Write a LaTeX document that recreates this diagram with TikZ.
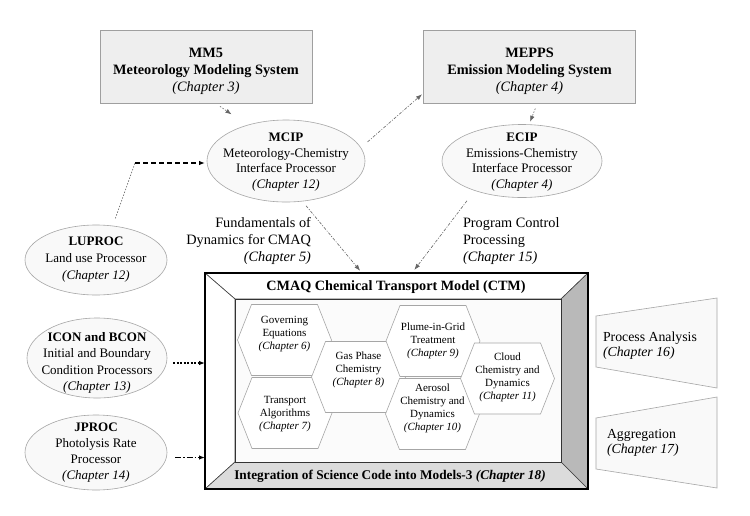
\documentclass[tikz,border=0pt]{standalone}
\usepackage{fontspec}
\setmainfont{Liberation Serif}
\usetikzlibrary{shapes.geometric,arrows.meta,calc}
\newcommand\hexcell[2]{\draw[hexline] (#1,#2) ++(-47,0) -- ++(14,-35.5) -- ++(66,0) -- ++(14,35.5) -- ++(-14,35.5) -- ++(-66,0) -- cycle;}
\begin{document}
\begin{tikzpicture}[x=1pt,y=-1pt,
  every node/.style={inner sep=0pt, outer sep=0pt},
  topbox/.style={draw=gray!75, fill=gray!13, line width=0.7pt, minimum width=212pt, minimum height=73pt},
  boxtext/.style={align=center, font=\fontsize{14.3}{17}\selectfont\bfseries},
  ell/.style={ellipse, draw=gray!70, fill=gray!5, line width=0.6pt},
  elltext/.style={align=center, font=\fontsize{13}{15.5}\selectfont},
  hexline/.style={draw=gray!70, fill=white, line width=0.6pt},
  hextext/.style={align=center, font=\fontsize{11}{13}\selectfont},
  lbl/.style={font=\fontsize{14.3}{17}\selectfont},
  traptext/.style={align=left, anchor=west, font=\fontsize{13.8}{15.5}\selectfont},
  trap/.style={draw=gray!70, fill=gray!5, line width=0.6pt},
  tip/.style={-{Latex[length=6pt,width=4.5pt]}},
  lightdot/.style={tip, draw=gray!80!black, line width=0.6pt, dash pattern=on 1.5pt off 1.5pt},
  lightdashdot/.style={tip, draw=gray!80!black, line width=0.6pt, dash pattern=on 3pt off 1.5pt on 1pt off 1.5pt},
  heavydash/.style={tip, draw=black, line width=1.1pt, dash pattern=on 5pt off 3pt},
  heavydot/.style={tip, draw=black, line width=1.1pt, dash pattern=on 2pt off 1.5pt},
  heavydashdot/.style={tip, draw=black, line width=1.1pt, dash pattern=on 6pt off 2pt on 1.5pt off 2pt},
]
\useasboundingbox (0,0) rectangle (750,515);
\fill[white] (0,0) rectangle (750,515);

% top boxes
\node[topbox] (mm5) at (206,66.5) {};
\node[boxtext] (mm5T) at (206,71) {MM5\\Meteorology Modeling System\\{\mdseries\itshape (Chapter 3)}};
\node[topbox] (mepps) at (529.5,66.5) {};
\node[boxtext] (meppsT) at (529.5,71) {MEPPS\\Emission Modeling System\\{\mdseries\itshape (Chapter 4)}};

% ellipses
\node[ell, minimum width=158pt, minimum height=82pt] (mcip) at (286,161) {};
\node[elltext] (mcipT) at (286,162) {\textbf{MCIP}\\Meteorology-Chemistry\\Interface Processor\\\textit{(Chapter 12)}};
\node[ell, minimum width=160pt, minimum height=73pt] (ecip) at (522,161) {};
\node[elltext] (ecipT) at (522,162) {\textbf{ECIP}\\Emissions-Chemistry\\Interface Processor\\\textit{(Chapter 4)}};
\node[ell, minimum width=142pt, minimum height=70pt] (luproc) at (96,260) {};
\node[elltext, font=\fontsize{13}{17}\selectfont] (luprocT) at (96,260) {\textbf{LUPROC}\\Land use Processor\\\textit{(Chapter 12)}};
\node[ell, minimum width=140pt, minimum height=80pt] (icon) at (97,358) {};
\node[elltext, font=\fontsize{13}{16.3}\selectfont] (iconT) at (97,363) {\textbf{ICON and BCON}\\Initial and Boundary\\Condition Processors\\\textit{(Chapter 13)}};
\node[ell, minimum width=142pt, minimum height=75pt] (jproc) at (96,452.5) {};
\node[elltext, font=\fontsize{13}{16}\selectfont] (jprocT) at (96,453) {\textbf{JPROC}\\Photolysis Rate\\Processor\\\textit{(Chapter 14)}};

% labels
\node[lbl, align=right, anchor=east] (fund) at (311,241) {Fundamentals of\\Dynamics for CMAQ\\\textit{(Chapter 5)}};
\node[lbl, align=left, anchor=west] (prog) at (463,241) {Program Control\\Processing\\\textit{(Chapter 15)}};

% CTM frame
\node[minimum width=383pt, minimum height=216pt] (ctm) at (396.5,381) {};
\node[minimum width=326pt, minimum height=163pt] (core) at (398,380.5) {};
\filldraw[fill=white, draw=gray!50!black, line width=0.6pt] (ctm.north west) -- (ctm.north east) -- (core.north east) -- (core.north west) -- cycle;
\filldraw[fill=white, draw=gray!50!black, line width=0.6pt] (ctm.north west) -- (core.north west) -- (core.south west) -- (ctm.south west) -- cycle;
\filldraw[fill=gray!55, draw=gray!50!black, line width=0.6pt] (ctm.north east) -- (ctm.south east) -- (core.south east) -- (core.north east) -- cycle;
\filldraw[fill=gray!28, draw=gray!50!black, line width=0.6pt] (ctm.south west) -- (ctm.south east) -- (core.south east) -- (core.south west) -- cycle;
\filldraw[fill=gray!3, draw=gray!40!black, line width=0.9pt] (core.north west) rectangle (core.south east);
\draw[black, line width=1.1pt] (ctm.north west) rectangle (ctm.south east);
\node[font=\fontsize{14.2}{17}\selectfont\bfseries] (ctmT) at (396,287) {CMAQ Chemical Transport Model (CTM)};
\node[font=\fontsize{13.3}{16}\selectfont\bfseries] (integ) at (390,476) {Integration of Science Code into Models-3 \textit{(Chapter 18)}};

% hexagons
\hexcell{284.5}{340}
\hexcell{285}{413}
\hexcell{358.5}{377}
\hexcell{433}{341}
\hexcell{432.5}{414}
\hexcell{507.5}{378.5}
\node[hextext] (h1) at (284.5,334) {Governing\\Equations\\\textit{(Chapter 6)}};
\node[hextext] (h2) at (285,414) {Transport\\Algorithms\\\textit{(Chapter 7)}};
\node[hextext] (h3) at (358.5,370) {Gas Phase\\Chemistry\\\textit{(Chapter 8)}};
\node[hextext] (h4) at (433,341) {Plume-in-Grid\\Treatment\\\textit{(Chapter 9)}};
\node[hextext] (h5) at (432.5,408) {Aerosol\\Chemistry and\\Dynamics\\\textit{(Chapter 10)}};
\node[hextext] (h6) at (507.5,377.5) {Cloud\\Chemistry and\\Dynamics\\\textit{(Chapter 11)}};

% right trapezoids
\draw[trap] (596,316) -- (717,298) -- (717,388) -- (596,367) -- cycle;
\node[traptext] (pa) at (603,345.5) {Process Analysis\\\textit{(Chapter 16)}};
\draw[trap] (596,418) -- (717,397) -- (717,488) -- (596,469) -- cycle;
\node[traptext] (agg) at (607,443) {Aggregation\\\textit{(Chapter 17)}};

% connectors
\draw[lightdot, shorten <=6pt, shorten >=3pt] ([xshift=9pt]mm5.south) -- ([xshift=-52pt,yshift=4pt]mcip.north);
\draw[lightdashdot, shorten <=9pt, shorten >=2pt] (mcip.10) -- ([yshift=10pt]mepps.south west);
\draw[lightdot, shorten <=6pt, shorten >=3pt] ([xshift=8pt]mepps.south) -- ([xshift=7pt]ecip.north);
\coordinate (bend) at (135,163);
\draw[draw=gray!80!black, line width=0.6pt, dash pattern=on 1.5pt off 1.5pt, shorten <=7pt] ([xshift=17pt]luproc.north) -- (bend);
\draw[heavydash, shorten >=2pt] (bend) -- ([yshift=-2pt]mcip.west);
\draw[lightdashdot, shorten <=6pt, shorten >=3pt] (mcip.292) -- ([xshift=-34.5pt]ctm.north);
\draw[lightdashdot, shorten <=13pt, shorten >=4pt] (ecip.212) -- ([xshift=15.5pt]ctm.north);
\coordinate (ia) at ([yshift=-5pt]icon.east);
\draw[heavydot, shorten <=6pt] (ia) -- (ia -| ctm.west);
\coordinate (ja) at ([yshift=-5pt]jproc.east);
\draw[heavydashdot, shorten <=8pt] (ja) -- (ja -| ctm.west);
\end{tikzpicture}
\end{document}
